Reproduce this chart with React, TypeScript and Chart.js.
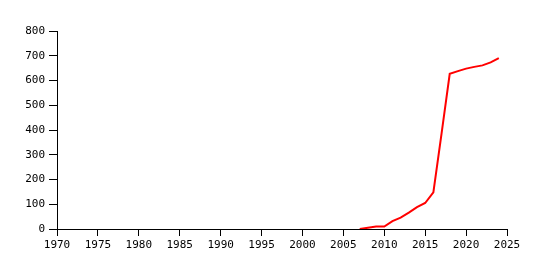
import React, { useEffect, useRef } from "react";
import { Chart, registerables } from "chart.js";

Chart.register(...registerables);

const years = [2007, 2008, 2009, 2010, 2011, 2012, 2013, 2014, 2015, 2016, 2017, 2018, 2019, 2020, 2021, 2022, 2023, 2024];
const values = [0, 5, 10, 10, 32, 46, 66, 88, 105, 148, 385, 627, 638, 648, 655, 661, 673, 690];
const xTicks = [1970, 1975, 1980, 1985, 1990, 1995, 2000, 2005, 2010, 2015, 2020, 2025];
const yTicks = [0, 100, 200, 300, 400, 500, 600, 700, 800];

export default function App() {
  const ref = useRef<HTMLCanvasElement>(null);
  useEffect(() => {
    document.body.style.margin = "0";
    const font = { family: "DejaVu Sans Mono", size: 11 };
    const chart = new Chart(ref.current!, {
      type: "line",
      data: {
        datasets: [
          {
            data: years.map((y, i) => ({ x: y, y: values[i] })),
            borderColor: "#ff0000",
            borderWidth: 2,
            pointRadius: 0,
            tension: 0,
            fill: false,
          },
        ],
      },
      options: {
        animation: false,
        responsive: false,
        maintainAspectRatio: false,
        layout: { padding: { left: 0, right: 36, top: 31, bottom: 0 } },
        plugins: { legend: { display: false }, tooltip: { enabled: false } },
        scales: {
          x: {
            type: "linear",
            min: xTicks[0],
            max: xTicks[xTicks.length - 1],
            afterBuildTicks: (s: any) => {
              s.ticks = xTicks.map((v) => ({ value: v }));
            },
            afterFit: (s: any) => {
              s.height = 41;
            },
            ticks: { color: "#000", font, padding: 3, maxRotation: 0, autoSkip: false, callback: (v: any) => String(v) },
            grid: { drawOnChartArea: false, drawTicks: true, tickLength: 7, color: "#000", tickColor: "#000" },
            border: { color: "#000", width: 1 },
          },
          y: {
            type: "linear",
            min: yTicks[0],
            max: yTicks[yTicks.length - 1],
            afterBuildTicks: (s: any) => {
              s.ticks = yTicks.map((v) => ({ value: v }));
            },
            afterFit: (s: any) => {
              s.width = 57;
            },
            ticks: { color: "#000", font, padding: 4, autoSkip: false, callback: (v: any) => String(v) },
            grid: { drawOnChartArea: false, drawTicks: true, tickLength: 8, color: "#000", tickColor: "#000" },
            border: { color: "#000", width: 1 },
          },
        },
      },
    });
    return () => chart.destroy();
  }, []);
  return (
    <div style={{ width: 543, height: 270, background: "#fff" }}>
      <canvas ref={ref} width={543} height={270} style={{ display: "block" }} />
    </div>
  );
}
